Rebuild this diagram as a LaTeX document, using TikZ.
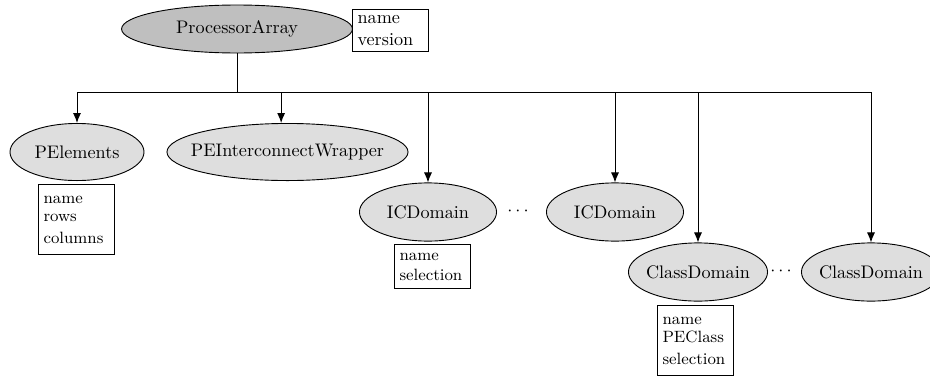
\documentclass[tikz,border=0pt]{standalone}
\usepackage{xcolor}
\usepackage{tikz}
\usetikzlibrary{arrows.meta, shapes.geometric}

\definecolor{rootgray}{gray}{0.75}
\definecolor{entgray}{gray}{0.87}
% keep the ellipse size independent of the label width
\newcommand{\midlabel}[1]{\makebox[0pt]{#1}}

\begin{document}
\begin{tikzpicture}[
    x=0.55pt, y=-0.55pt, line width=0.5pt,
    every node/.style={font=\normalsize},
    entity/.style={draw, ellipse, fill=entgray, inner sep=0pt,
                   minimum width=76pt, minimum height=32pt},
    attrs/.style={draw, anchor=north west, align=left, font=\small,
                  inner xsep=2.8pt, inner ysep=0pt, text width=36pt},
    link/.style={-{Latex[length=5.5pt,width=4.4pt]}},
]
  \useasboundingbox (0,0) rectangle (930,376);

  % root
  \node[entity, fill=rootgray, minimum width=127pt, minimum height=26.4pt]
        (pa) at (237,29) {\midlabel{ProcessorArray}};
  \node[draw, anchor=north west, align=left, inner xsep=2.8pt, inner ysep=0pt,
        text width=36pt, minimum height=23.1pt]
        (paattr) at (352,9) {name\\version};

  % children
  \node[entity, minimum width=73.7pt, minimum height=31.4pt]
        (pe) at (77,152) {\midlabel{PElements}};
  \node[entity, minimum width=132.6pt, minimum height=31.4pt]
        (pew) at (287.5,152) {\midlabel{PEInterconnectWrapper}};
  \node[entity, minimum width=75.4pt] (ica) at (428,212) {\midlabel{ICDomain}};
  \node (icdots) at (518,211) {$\cdots$};
  \node[entity, minimum width=75.4pt] (icb) at (615,212) {\midlabel{ICDomain}};
  \node[entity, minimum width=76.5pt] (cda) at (698,272) {\midlabel{ClassDomain}};
  \node (cddots) at (781,271) {$\cdots$};
  \node[entity, minimum width=76.5pt] (cdb) at (871,272) {\midlabel{ClassDomain}};

  % attribute boxes
  \node[attrs, minimum height=38.5pt] (peattr) at (38,184)
        {name\\[-1pt]rows\\[1pt]columns};
  \node[attrs, minimum height=24.2pt] (icattr) at (394,244)
        {name\\selection};
  \node[attrs, minimum height=38.5pt] (cdattr) at (657,305)
        {name\\[-1pt]PEClass\\[1pt]selection};

  % tree connectors
  \coordinate (bus) at (237,92);
  \draw (pa.south) -- (pa.south |- bus);
  \draw (pe.north |- bus) -- (cdb.north |- bus);
  \draw[link] (pe.north |- bus) -- (pe.north);
  \draw[link] ([xshift=-3.5pt]pew.north |- bus) -- ([xshift=-3.5pt]pew.north);
  \draw[link] (ica.north |- bus) -- (ica.north);
  \draw[link] (icb.north |- bus) -- (icb.north);
  \draw[link] (cda.north |- bus) -- (cda.north);
  \draw[link] (cdb.north |- bus) -- (cdb.north);
\end{tikzpicture}
\end{document}
